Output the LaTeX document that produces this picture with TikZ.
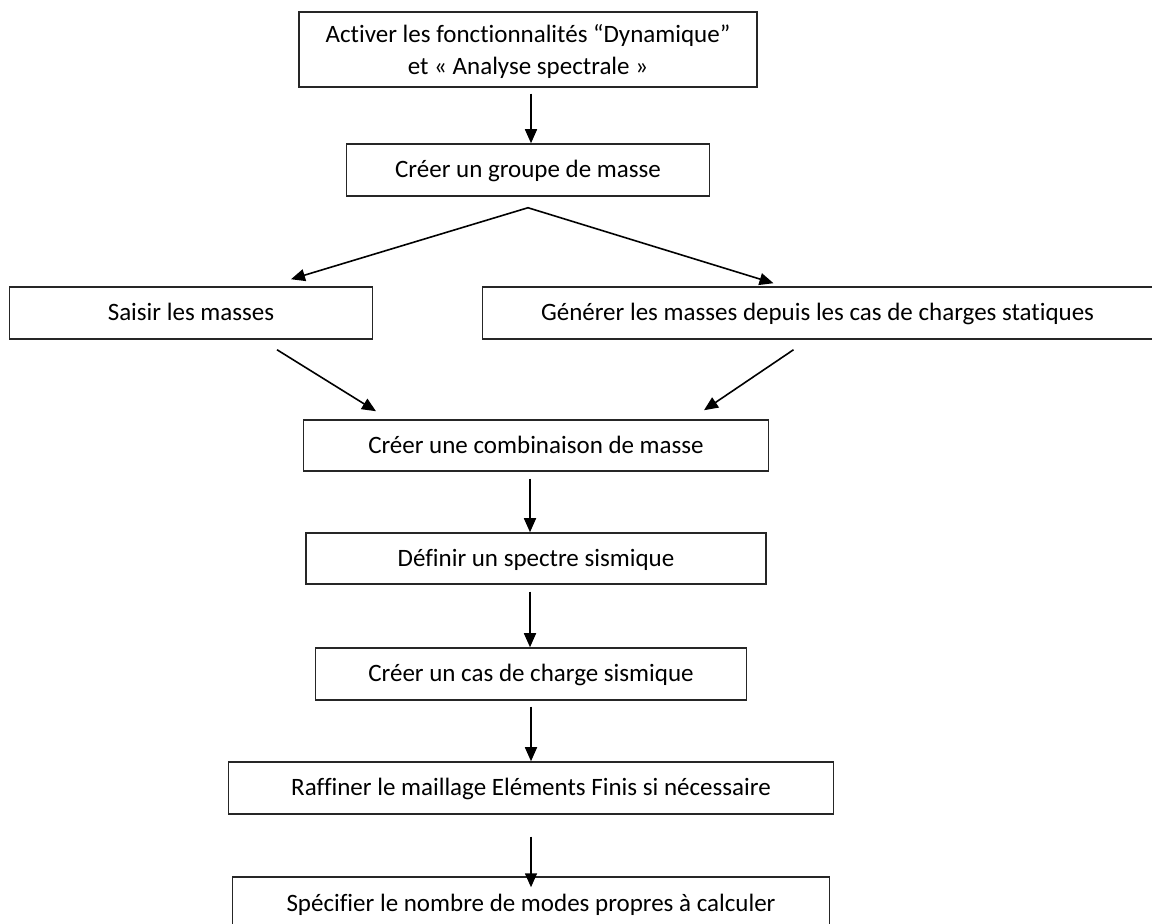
\documentclass[tikz,border=0pt]{standalone}
\usepackage{fontspec}
\setmainfont{Carlito}[Ligatures=NoCommon]
\usepackage{tikz}
\usetikzlibrary{positioning,calc,arrows.meta}

\begin{document}
\begin{tikzpicture}[node distance=30.25pt, auto, >={Triangle[length=7pt,width=6pt]}, line width=0.75pt]
  \tikzstyle{box} = [rectangle, draw=black!85, minimum height=26pt, inner sep=2pt, text height=9pt, text depth=1pt, font=\fontsize{12.5}{16}\selectfont]
  \tikzstyle{link} = [->, line width=0.8pt]

  \useasboundingbox (0,0) rectangle (576pt,-462pt);

  \node[box, minimum width=229pt, minimum height=37.5pt, text height=29.5pt, text depth=4pt, align=center] (act) at (264pt,-24.75pt)
    {Activer les fonctionnalités “Dynamique”\\ et « Analyse spectrale »};
  \node[box, minimum width=181.5pt] (grp) [below=27.75pt of act] {Créer un groupe de masse};
  \node[box, minimum width=181.5pt] (sais) [below=44.75pt of grp, xshift=-168.5pt] {Saisir les masses};
  \node[box, minimum width=335pt] (gen) [right=54.25pt of sais] {Générer les masses depuis les cas de charges statiques};
  \node[box, minimum width=232.5pt, minimum height=25.5pt] (comb) [below=111.25pt of grp, xshift=4pt] {Créer une combinaison de masse};
  \node[box, minimum width=230pt, minimum height=25.5pt] (spec) [below=of comb] {Définir un spectre sismique};
  \node[box, minimum width=215.5pt] (seis) [below=31.25pt of spec, xshift=-2.5pt] {Créer un cas de charge sismique};
  \node[box, minimum width=302.5pt] (raff) [below=of seis] {Raffiner le maillage Eléments Finis si nécessaire};
  \node[box, minimum width=298.5pt] (modes) [below=30.75pt of raff] {Spécifier le nombre de modes propres à calculer};

  \coordinate (split) at ([yshift=-5.5pt]grp.south);

  \draw[link] ([xshift=1.5pt,yshift=-3pt]act.south) -- ([xshift=1.5pt]grp.north);
  \draw[link] (split) -- ([xshift=50pt,yshift=3.5pt]sais.north);
  \draw[link] (split) -- ([xshift=-22pt,yshift=1.5pt]gen.north);
  \draw[link] ([xshift=43pt,yshift=-5pt]sais.south) -- ([xshift=-80pt,yshift=4pt]comb.north);
  \draw[link] ([xshift=-12pt,yshift=-5pt]gen.south) -- ([xshift=84pt,yshift=4.5pt]comb.north);
  \draw[link] ([xshift=-3pt,yshift=-3.5pt]comb.south) -- ([xshift=-3pt]spec.north);
  \draw[link] ([xshift=-3pt,yshift=-3.5pt]spec.south) -- ([xshift=-0.5pt]seis.north);
  \draw[link] ([yshift=-3pt]seis.south) -- (raff.north);
  \draw[link] ([yshift=-11pt]raff.south) -- ([yshift=-5.5pt]modes.north);
\end{tikzpicture}
\end{document}
